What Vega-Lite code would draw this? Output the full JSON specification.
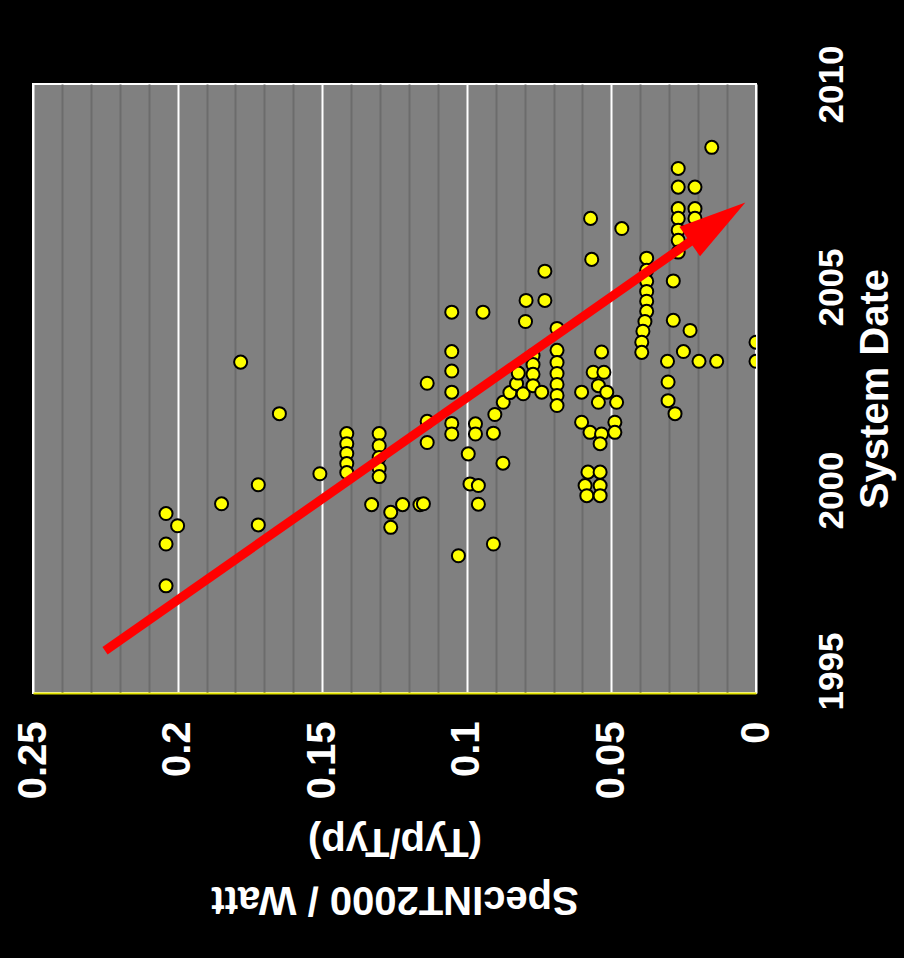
{
  "$schema": "https://vega.github.io/schema/vega-lite/v6.json",
  "width": 723,
  "height": 609,
  "autosize": {"type": "none"},
  "padding": {"left": 33, "top": 84, "right": 148, "bottom": 265},
  "background": "black",
  "config": {
    "view": {"fill": "#808080", "stroke": "white", "strokeWidth": 2}
  },
  "datasets": {
    "systems": [
      {"v":0.1782,"yr":2003.15},{"v":0.1648,"yr":2001.88},{"v":0.1508,"yr":2000.40},{"v":0.1721,"yr":2000.13},
      {"v":0.1848,"yr":1999.66},{"v":0.2040,"yr":1999.42},{"v":0.2000,"yr":1999.12},{"v":0.1721,"yr":1999.14},
      {"v":0.2040,"yr":1998.67},{"v":0.2040,"yr":1997.64},
      {"v":0.1415,"yr":2001.39},{"v":0.1415,"yr":2001.14},{"v":0.1415,"yr":2000.90},{"v":0.1415,"yr":2000.65},{"v":0.1415,"yr":2000.43},
      {"v":0.1303,"yr":2001.39},{"v":0.1303,"yr":2001.09},{"v":0.1303,"yr":2000.80},{"v":0.1303,"yr":2000.53},{"v":0.1303,"yr":2000.33},
      {"v":0.1329,"yr":1999.64},{"v":0.1263,"yr":1999.45},{"v":0.1263,"yr":1999.08},{"v":0.1222,"yr":1999.64},{"v":0.1162,"yr":1999.64},
      {"v":0.1137,"yr":2002.63},{"v":0.1137,"yr":2001.69},{"v":0.1137,"yr":2001.17},{"v":0.1150,"yr":1999.66},
      {"v":0.1052,"yr":2004.38},{"v":0.0944,"yr":2004.38},{"v":0.1052,"yr":2003.41},{"v":0.1052,"yr":2002.93},
      {"v":0.1052,"yr":2002.41},{"v":0.1052,"yr":2001.64},{"v":0.1052,"yr":2001.38},
      {"v":0.0970,"yr":2001.63},{"v":0.0970,"yr":2001.38},{"v":0.0908,"yr":2001.40},{"v":0.0903,"yr":2001.86},
      {"v":0.0874,"yr":2002.16},{"v":0.0851,"yr":2002.40},{"v":0.0828,"yr":2002.62},{"v":0.0822,"yr":2002.88},{"v":0.0805,"yr":2002.37},
      {"v":0.0771,"yr":2003.31},{"v":0.0771,"yr":2003.09},{"v":0.0771,"yr":2002.85},{"v":0.0771,"yr":2002.57},
      {"v":0.0741,"yr":2002.41},
      {"v":0.0688,"yr":2003.98},{"v":0.0688,"yr":2003.44},{"v":0.0688,"yr":2003.14},{"v":0.0688,"yr":2002.87},
      {"v":0.0688,"yr":2002.60},{"v":0.0688,"yr":2002.33},{"v":0.0688,"yr":2002.08},
      {"v":0.0995,"yr":2000.89},{"v":0.0875,"yr":2000.66},{"v":0.0989,"yr":2000.15},{"v":0.0960,"yr":2000.11},
      {"v":0.0960,"yr":1999.65},{"v":0.0908,"yr":1998.67},{"v":0.1029,"yr":1998.38},
      {"v":0.0795,"yr":2004.67},{"v":0.0730,"yr":2004.67},{"v":0.0797,"yr":2004.15},{"v":0.0730,"yr":2005.39},
      {"v":0.0568,"yr":2005.68},{"v":0.0572,"yr":2006.69},{"v":0.0464,"yr":2006.44},
      {"v":0.0534,"yr":2003.40},{"v":0.0563,"yr":2002.90},{"v":0.0526,"yr":2002.90},{"v":0.0603,"yr":2002.41},
      {"v":0.0545,"yr":2002.57},{"v":0.0545,"yr":2002.16},{"v":0.0516,"yr":2002.41},{"v":0.0482,"yr":2002.16},
      {"v":0.0603,"yr":2001.67},{"v":0.0574,"yr":2001.42},{"v":0.0534,"yr":2001.38},{"v":0.0488,"yr":2001.67},
      {"v":0.0488,"yr":2001.42},{"v":0.0539,"yr":2001.14},
      {"v":0.0581,"yr":2000.44},{"v":0.0539,"yr":2000.44},{"v":0.0591,"yr":2000.11},{"v":0.0539,"yr":2000.11},
      {"v":0.0585,"yr":1999.86},{"v":0.0539,"yr":1999.86},
      {"v":0.0378,"yr":2005.71},{"v":0.0378,"yr":2005.41},{"v":0.0378,"yr":2005.14},{"v":0.0378,"yr":2004.89},
      {"v":0.0378,"yr":2004.65},{"v":0.0378,"yr":2004.40},{"v":0.0384,"yr":2004.15},{"v":0.0391,"yr":2003.91},
      {"v":0.0395,"yr":2003.64},{"v":0.0395,"yr":2003.39},
      {"v":0.0269,"yr":2007.92},{"v":0.0269,"yr":2007.46},{"v":0.0269,"yr":2006.93},{"v":0.0269,"yr":2006.69},
      {"v":0.0269,"yr":2006.40},{"v":0.0269,"yr":2006.15},{"v":0.0269,"yr":2005.86},
      {"v":0.0211,"yr":2007.46},{"v":0.0211,"yr":2006.93},{"v":0.0211,"yr":2006.69},
      {"v":0.0153,"yr":2008.44},{"v":0.0286,"yr":2005.15},{"v":0.0286,"yr":2004.18},{"v":0.0228,"yr":2003.93},
      {"v":0.0251,"yr":2003.41},{"v":0.0306,"yr":2003.17},{"v":0.0197,"yr":2003.17},{"v":0.0136,"yr":2003.17},
      {"v":0.0304,"yr":2002.66},{"v":0.0304,"yr":2002.20},{"v":0.0280,"yr":2001.88},
      {"v":0.0,"yr":2003.64},{"v":0.0,"yr":2003.17}
    ],
    "arrowLine": [{"v":0.2251,"yr":1996.04},{"v":0.0211,"yr":2006.20}],
    "arrowHead": [{"v":0.0133,"yr":2006.60}]
  },
  "encoding": {
    "x": {
      "field": "v",
      "type": "quantitative",
      "scale": {"domain": [0, 0.25], "reverse": true, "nice": false, "zero": true},
      "axis": {
        "orient": "bottom",
        "values": [0,0.01,0.02,0.03,0.04,0.05,0.06,0.07,0.08,0.09,0.1,0.11,0.12,0.13,0.14,0.15,0.16,0.17,0.18,0.19,0.2,0.21,0.22,0.23,0.24,0.25],
        "format": "~g",
        "labelExpr": "round(datum.value*100) % 5 == 0 ? datum.label : ''",
        "labelOverlap": false,
        "labelAngle": -90,
        "labelAlign": "right",
        "labelBaseline": "middle",
        "labelFont": "Liberation Sans",
        "labelFontWeight": "bold",
        "labelFontSize": 40,
        "labelColor": "white",
        "labelPadding": 28,
        "ticks": false,
        "tickSize": 0,
        "domain": true,
        "domainColor": "#e2e200",
        "domainWidth": 2,
        "grid": true,
        "gridColor": {"condition": {"test": "round(datum.value*100) % 5 == 0", "value": "white"}, "value": "#6c6c6c"},
        "gridWidth": 2,
        "title": ["SpecINT2000 / Watt", "(Typ/Typ)"],
        "titleAngle": 180,
        "titleBaseline": "bottom",
        "titleFont": "Liberation Sans",
        "titleFontWeight": "bold",
        "titleFontSize": 40,
        "titleLineHeight": 58,
        "titleColor": "white",
        "titlePadding": 80
      }
    },
    "y": {
      "field": "yr",
      "type": "quantitative",
      "scale": {"domain": [1995, 2010], "nice": false, "zero": false},
      "axis": {
        "orient": "right",
        "values": [1995, 2000, 2005, 2010],
        "format": "d",
        "grid": false,
        "ticks": false,
        "tickSize": 0,
        "domain": false,
        "labelAngle": -90,
        "labelAlign": "center",
        "labelBaseline": "top",
        "labelOffset": {"condition": {"test": "datum.value == 1995", "value": -22}, "value": 0},
        "labelFont": "Liberation Sans",
        "labelFontWeight": "bold",
        "labelFontSize": 35,
        "labelColor": "white",
        "labelPadding": 58,
        "labelOverlap": false,
        "title": "System Date",
        "titleAngle": -90,
        "titleBaseline": "top",
        "titleFont": "Liberation Sans",
        "titleFontWeight": "bold",
        "titleFontSize": 40,
        "titleColor": "white",
        "titlePadding": 6
      }
    }
  },
  "layer": [
    {
      "data": {"name": "systems"},
      "mark": {"type": "point", "shape": "circle", "filled": true, "fill": "#ffff00", "stroke": "black", "strokeWidth": 2, "size": 170, "opacity": 1, "clip": true}
    },
    {
      "data": {"name": "arrowLine"},
      "mark": {"type": "line", "color": "#ff0000", "strokeWidth": 9, "strokeCap": "butt"},
      "encoding": {}
    },
    {
      "data": {"name": "arrowHead"},
      "mark": {"type": "point", "shape": "M -1 -0.53 L 1 0 L -1 0.53 Z", "angle": -35, "filled": true, "color": "#ff0000", "opacity": 1, "size": 4624}
    }
  ]
}
